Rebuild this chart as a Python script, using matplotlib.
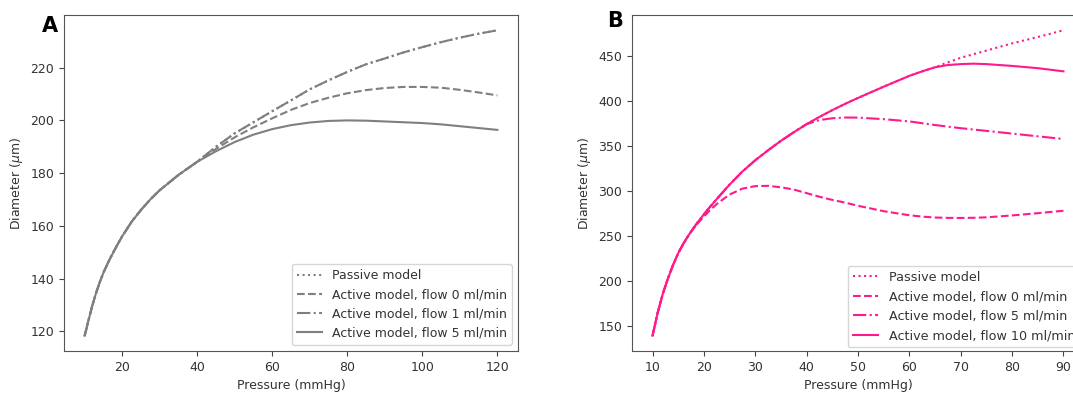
import matplotlib
matplotlib.use("Agg")
import matplotlib.pyplot as plt

# ---------------- Panel A data ----------------
pressure_a = [10, 11, 12, 13, 14, 15, 16, 17, 18, 19, 20, 22.5, 25, 27.5, 30, 35, 40,
              45, 50, 55, 60, 65, 70, 75, 80, 85, 90, 95, 100, 105, 110, 115, 120]
common_a = [118.3, 124.0, 129.5, 134.3, 138.5, 142.2, 145.3, 148.2, 150.9, 153.5,
            156.0, 161.5, 166.0, 170.0, 173.5, 179.3, 184.3]
a_flow5_tail = [188.3, 191.8, 194.6, 196.7, 198.2, 199.2, 199.8, 200.0, 199.9,
                199.6, 199.3, 199.0, 198.5, 197.8, 197.1, 196.4]
a_flow0_tail = [189.2, 193.6, 197.4, 200.8, 204.0, 206.6, 208.6, 210.3, 211.5,
                212.3, 212.7, 212.7, 212.4, 211.6, 210.6, 209.5]
a_flow1_tail = [190.0, 195.1, 199.3, 203.5, 207.6, 211.8, 215.2, 218.4, 221.3,
                223.5, 225.8, 227.8, 229.7, 231.4, 232.9, 234.2]
a_passive = common_a + a_flow1_tail
a_flow0 = common_a + a_flow0_tail
a_flow1 = common_a + a_flow1_tail
a_flow5 = common_a + a_flow5_tail
labels_a = ["Passive model", "Active model, flow 0 ml/min",
            "Active model, flow 1 ml/min", "Active model, flow 5 ml/min"]

# ---------------- Panel B data ----------------
pressure_b = [10, 11, 12, 13, 14, 15, 16, 17, 18, 19, 20, 21, 22.5, 25, 27.5, 30,
              32.5, 35, 37.5, 40, 42.5, 45, 47.5, 50, 55, 60, 62.5, 65, 67.5, 70,
              72.5, 75, 80, 85, 90]
b_passive = [139.5, 165.0, 186.0, 203.0, 218.0, 231.0, 241.5, 250.7, 259.0, 266.8,
             274.0, 281.0, 291.0, 307.0, 321.5, 334.0, 345.0, 355.5, 365.0, 374.0,
             382.0, 389.5, 396.5, 403.0, 415.5, 427.5, 432.5, 437.0, 442.5, 447.5,
             451.5, 455.5, 463.5, 470.5, 478.0]
b_flow0 = [139.5, 165.0, 186.0, 203.0, 218.0, 231.0, 241.5, 250.7, 258.5, 265.3,
           271.5, 277.5, 285.5, 296.0, 302.5, 305.3, 305.6, 304.0, 301.5, 297.5,
           293.5, 290.0, 287.0, 283.5, 277.5, 273.0, 271.5, 270.5, 270.1, 270.0,
           270.2, 270.7, 272.8, 275.3, 278.0]
b_flow5 = [139.5, 165.0, 186.0, 203.0, 218.0, 231.0, 241.5, 250.7, 259.0, 266.8,
           274.0, 281.0, 291.0, 307.0, 321.5, 334.0, 345.0, 355.5, 365.0, 374.0,
           378.5, 380.5, 381.3, 381.2, 379.5, 377.0, 375.0, 373.0, 371.2, 369.5,
           368.0, 366.5, 363.5, 360.5, 357.5]
b_flow10 = [139.5, 165.0, 186.0, 203.0, 218.0, 231.0, 241.5, 250.7, 259.0, 266.8,
            274.0, 281.0, 291.0, 307.0, 321.5, 334.0, 345.0, 355.5, 365.0, 374.0,
            382.0, 389.5, 396.5, 403.0, 415.5, 427.5, 432.5, 437.0, 439.5, 440.5,
            441.0, 440.5, 438.5, 436.0, 432.5]
labels_b = ["Passive model", "Active model, flow 0 ml/min",
            "Active model, flow 5 ml/min", "Active model, flow 10 ml/min"]

gray = "#7f7f7f"
pink = "#ff1a8c"
styles = [":", "--", "-.", "-"]

W, H = 1073, 394
fig = plt.figure(figsize=(W / 100, H / 100), dpi=100)

ax_a = fig.add_axes([64 / W, (H - 351) / H, 454 / W, 336 / H])
ax_b = fig.add_axes([632 / W, (H - 351) / H, 452 / W, 336 / H])

for ys, ls, lab in zip([a_passive, a_flow0, a_flow1, a_flow5], styles, labels_a):
    ax_a.plot(pressure_a, ys, ls=ls, color=gray, lw=1.5, label=lab)
for ys, ls, lab in zip([b_passive, b_flow0, b_flow5, b_flow10], styles, labels_b):
    ax_b.plot(pressure_b, ys, ls=ls, color=pink, lw=1.5, label=lab)

ax_a.set_xticks([20, 40, 60, 80, 100, 120])
ax_a.set_yticks([120, 140, 160, 180, 200, 220])
ax_b.set_xticks([10, 20, 30, 40, 50, 60, 70, 80, 90])
ax_b.set_yticks([150, 200, 250, 300, 350, 400, 450])

for ax in (ax_a, ax_b):
    ax.set_xlabel("Pressure (mmHg)", fontsize=9, color="#333333")
    ax.set_ylabel(r"Diameter ($\mu$m)", fontsize=9, color="#333333")
    ax.tick_params(labelsize=9, labelcolor="#333333", color="#444444")
    for s in ax.spines.values():
        s.set_color("#555555")

ax_a.legend(loc="lower right", fontsize=9, labelcolor="#333333")
ax_b.legend(loc="lower right", fontsize=9.2, labelcolor="#333333",
            borderaxespad=0.3)

fig.text(41.5 / W, 1 - 31.7 / H, "A", fontsize=15, fontweight="bold", va="baseline")
fig.text(607.5 / W, 1 - 26.7 / H, "B", fontsize=15, fontweight="bold", va="baseline")

fig.savefig("out.png", dpi=100)
